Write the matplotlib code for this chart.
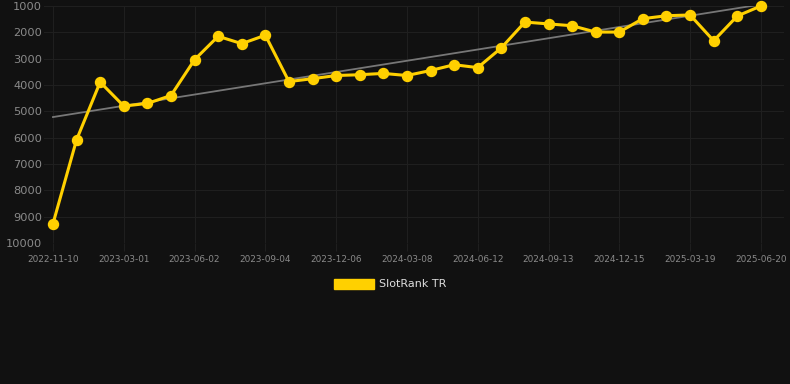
import numpy as np
import matplotlib
matplotlib.use('Agg')
import matplotlib.pyplot as plt
from matplotlib.patches import Patch

# ============================
# Data (monthly rank, lower is better)
# ============================
tick_labels = ["2022-11-10", "2023-03-01", "2023-06-02", "2023-09-04",
               "2023-12-06", "2024-03-08", "2024-06-12", "2024-09-13",
               "2024-12-15", "2025-03-19", "2025-06-20"]
rank = [9270, 6080, 3890, 4800, 4700, 4400, 3040, 2150, 2430, 2110,
        3870, 3760, 3640, 3610, 3560, 3640, 3450, 3230, 3340, 2590,
        1610, 1680, 1750, 1990, 1990, 1480, 1370, 1340, 2320, 1380, 1000]
series_name = "SlotRank TR"

BG = "#111111"
GRID = "#1f1f1f"
GOLD = "#FFD000"

x = np.arange(len(rank))
coef = np.polyfit(x, rank, 1)
trend = np.polyval(coef, x)

fig = plt.figure(figsize=(7.9, 3.84), dpi=100, facecolor=BG)
ax = fig.add_axes([44 / 790, 1 - 243 / 384, 740 / 790, 237 / 384])
ax.set_facecolor(BG)

ax.plot(x, trend, color="#777777", linewidth=1.3, zorder=2)
ax.plot(x, rank, color=GOLD, linewidth=2.2, marker="o", markersize=7.2,
        zorder=3, clip_on=False)

ax.set_ylim(10000, 1000)
ax.set_yticks(np.arange(1000, 10001, 1000))
ax.set_xlim(-0.38, 30.98)
ax.set_xticks(x[::3])
ax.set_xticklabels(tick_labels)

ax.grid(True, color=GRID, linewidth=0.8)
ax.set_axisbelow(True)
for s in ax.spines.values():
    s.set_visible(False)
ax.tick_params(axis="y", length=0, pad=1.5, labelsize=8.2, labelcolor="#8a8a8a")
ax.tick_params(axis="x", length=6, color=GRID, pad=3, labelsize=6.4,
               labelcolor="#8a8a8a")

fig.legend(handles=[Patch(facecolor=GOLD, edgecolor=GOLD, label=series_name)],
           loc="center", bbox_to_anchor=(390 / 790, 1 - 284 / 384), frameon=False,
           fontsize=8, labelcolor="#dddddd", handlelength=3.6, handleheight=1.0,
           handletextpad=0.5)

plt.savefig("out.png", dpi=100, facecolor=BG)
plt.close()
